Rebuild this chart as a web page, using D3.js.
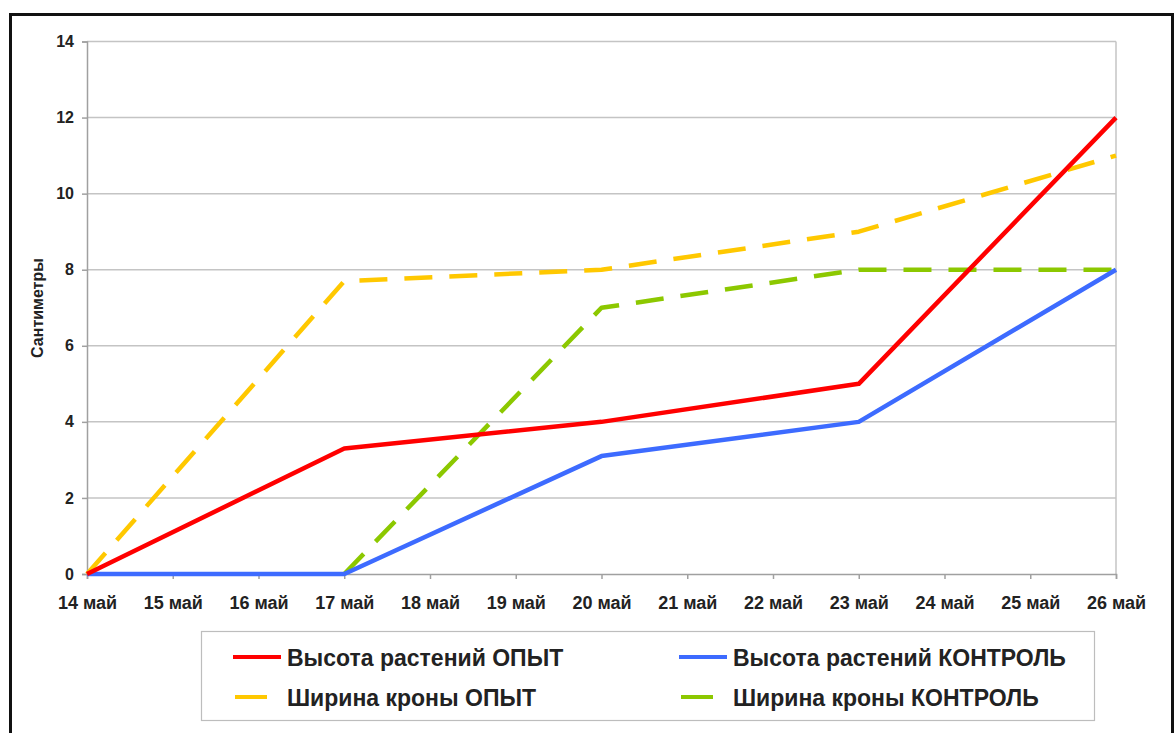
<!DOCTYPE html>
<html><head><meta charset="utf-8">
<script src="https://cdn.jsdelivr.net/npm/d3@7"></script>
<style>html,body{margin:0;padding:0;background:#fff;} svg{display:block;font-family:"Liberation Sans",Arial,sans-serif;}</style>
</head><body>
<svg id="chart" width="1176" height="733"></svg>
<script>
const categories = ["14 май","15 май","16 май","17 май","18 май","19 май","20 май","21 май","22 май","23 май","24 май","25 май","26 май"];
const heightExp  = [0,null,null,3.3,null,null,4,null,null,5,null,null,12];
const heightCtrl = [0,null,null,0,null,null,3.1,null,null,4,null,null,8];
const crownExp   = [0,null,null,7.7,null,null,8,null,null,9,null,null,11];
const crownCtrl  = [null,null,null,0,null,null,7,null,null,8,null,null,8];
const yTicks = [0,2,4,6,8,10,12,14];
const yTitle = "Сантиметры";

const series = [
  {name:"Высота растений ОПЫТ", values:heightExp, color:"#ff0000", dash:null},
  {name:"Высота растений КОНТРОЛЬ", values:heightCtrl, color:"#3d6bff", dash:null},
  {name:"Ширина кроны ОПЫТ", values:crownExp, color:"#ffc800", dash:"28,17"},
  {name:"Ширина кроны КОНТРОЛЬ", values:crownCtrl, color:"#8cc800", dash:"28,17"}
];
const drawOrder = [2,3,1,0];

const svg = d3.select("#chart");
// outer frame
svg.append("rect").attr("x",10.5).attr("y",14.5).attr("width",1162).attr("height",740)
  .attr("fill","none").attr("stroke","#111").attr("stroke-width",3);

const pL=87, pR=1116, pT=41.5, pB=574;
const x = d3.scalePoint().domain(categories).range([pL,pR]);
const y = d3.scaleLinear().domain([0,14]).range([pB,pT]);

// gridlines
svg.append("g").selectAll("line").data(yTicks.filter(d=>d>0)).join("line")
  .attr("x1",pL).attr("x2",pR).attr("y1",d=>y(d)).attr("y2",d=>y(d))
  .attr("stroke","#c4c4c4").attr("stroke-width",1.5);
// right border of plot
svg.append("line").attr("x1",pR).attr("x2",pR).attr("y1",pT).attr("y2",pB)
  .attr("stroke","#c4c4c4").attr("stroke-width",1.5);

// y axis
const yAxis = svg.append("g").attr("transform",`translate(${pL},0)`)
  .call(d3.axisLeft(y).tickValues(yTicks).tickSize(5).tickPadding(8).tickFormat(d3.format("d")));
yAxis.select(".domain").attr("stroke","#a0a0a0").attr("stroke-width",1.5);
yAxis.selectAll(".tick line").attr("stroke","#a0a0a0").attr("stroke-width",1.5);
yAxis.selectAll("text").attr("font-size",16).attr("font-weight","bold").attr("fill","#222")
  .attr("font-family","'Liberation Sans',Arial,sans-serif");

// x axis
const xAxis = svg.append("g").attr("transform",`translate(0,${pB})`)
  .call(d3.axisBottom(x).tickSize(5).tickPadding(17));
xAxis.select(".domain").attr("stroke","#a0a0a0").attr("stroke-width",1.5);
xAxis.selectAll(".tick line").attr("stroke","#a0a0a0").attr("stroke-width",1.5);
xAxis.selectAll("text").attr("font-size",18).attr("font-weight","bold").attr("fill","#222")
  .attr("font-family","'Liberation Sans',Arial,sans-serif");

// y title
svg.append("text").attr("transform",`translate(43,${308}) rotate(-90)`)
  .attr("text-anchor","middle").attr("font-size",16).attr("font-weight","bold").attr("fill","#222")
  .text(yTitle);

// lines
const line = d3.line().x(d=>x(d.c)).y(d=>y(d.v));
drawOrder.forEach(i=>{
  const s = series[i];
  const pts = categories.map((c,j)=>({c, v:s.values[j]})).filter(d=>d.v!==null);
  svg.append("path").datum(pts).attr("d",line).attr("fill","none")
    .attr("stroke",s.color).attr("stroke-width",4.5).attr("stroke-linejoin","round")
    .attr("stroke-dasharray",s.dash);
});

// legend
const lg = svg.append("g");
lg.append("rect").attr("x",201.5).attr("y",631.5).attr("width",893).attr("height",89)
  .attr("fill","#fff").attr("stroke","#bdbdbd").attr("stroke-width",1.2);
const legPos = [[233,657],[679,657],[233,697],[679,697]];
series.forEach((s,i)=>{
  const [lx,ly] = legPos[i];
  lg.append("line").attr("x1", s.dash? lx+2 : lx).attr("x2",s.dash? lx+34 : lx+48).attr("y1",ly).attr("y2",ly)
    .attr("stroke",s.color).attr("stroke-width",4);
  lg.append("text").attr("x",lx+54).attr("y",ly+9).attr("font-size",23).attr("font-weight","bold")
    .attr("fill","#222").text(s.name);
});
</script>
</body></html>
